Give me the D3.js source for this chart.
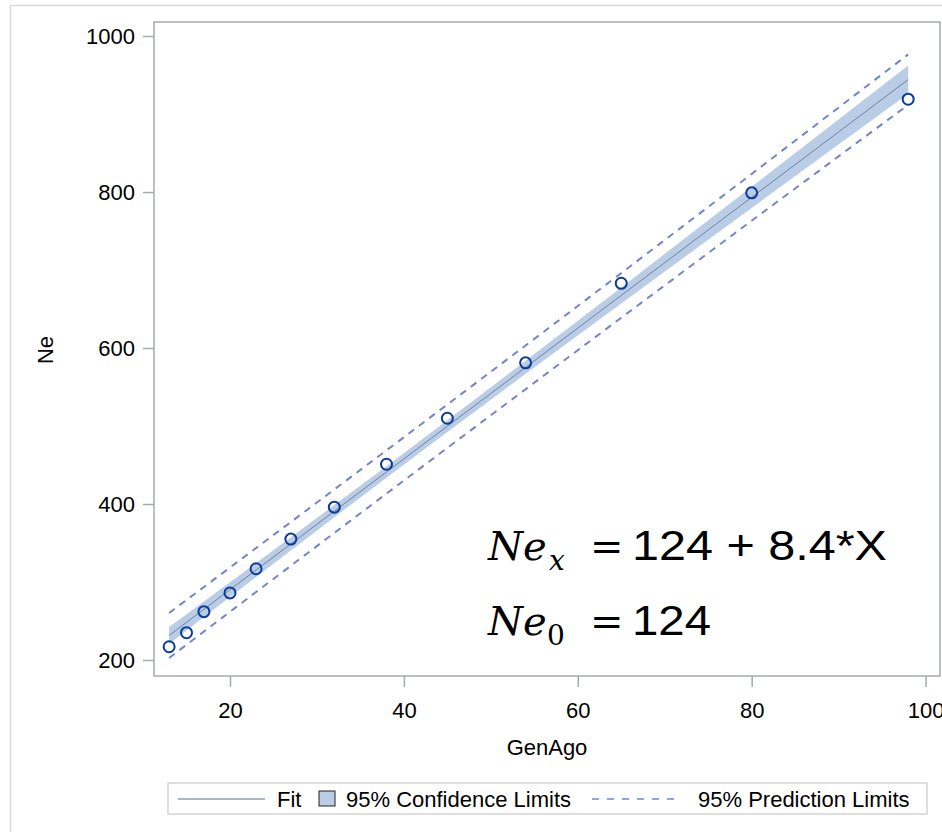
<!DOCTYPE html>
<html>
<head>
<meta charset="utf-8">
<script src="https://cdn.jsdelivr.net/npm/d3@7"></script>
<style>
  html, body { margin: 0; padding: 0; background: #fff; }
  svg { display: block; font-family: "Liberation Sans", Arial, sans-serif; }
</style>
</head>
<body>
<svg id="chart" width="942" height="832"></svg>
<script>
// generations ago vs effective population size
const genAgo = [13, 15, 17, 20, 23, 27, 32, 38, 45, 54, 65, 80, 98];
const ne = [217, 235, 262, 286, 317, 355, 396, 451, 510, 581, 683, 799, 919];
const xTicks = [20, 40, 60, 80, 100];
const yTicks = [200, 400, 600, 800, 1000];
const legendLabels = ["Fit", "95% Confidence Limits", "95% Prediction Limits"];
const tCrit = 2.201; // t(0.975, df = 11)

const width = 942, height = 832;
const plot = { left: 154, top: 22, right: 940, bottom: 676 };

const svg = d3.select("#chart");

// outer graph border
svg.append("rect")
   .attr("x", 10.5).attr("y", 5.5)
   .attr("width", 940).attr("height", 840)
   .attr("fill", "#fff")
   .attr("stroke", "#d9d9d9")
   .attr("stroke-width", 1.5);

const x = d3.scaleLinear().domain([11.26, 101.66]).range([plot.left, plot.right]);
const y = d3.scaleLinear().domain([179.5, 1018]).range([plot.bottom, plot.top]);

// least squares fit with confidence / prediction limits
const n = genAgo.length;
const xMean = d3.mean(genAgo), yMean = d3.mean(ne);
const sxx = d3.sum(genAgo, v => (v - xMean) ** 2);
const sxy = d3.sum(genAgo, (v, i) => (v - xMean) * (ne[i] - yMean));
const slope = sxy / sxx;
const intercept = yMean - slope * xMean;
const sse = d3.sum(genAgo, (v, i) => (ne[i] - (intercept + slope * v)) ** 2);
const s = Math.sqrt(sse / (n - 2));

const fitRows = genAgo.map(v => {
  const f = intercept + slope * v;
  const h = (v - xMean) ** 2 / sxx;
  const ci = tCrit * s * Math.sqrt(1 / n + h);
  const pi = tCrit * s * Math.sqrt(1 + 1 / n + h);
  return { x: v, fit: f, lclm: f - ci, uclm: f + ci, lcl: f - pi, ucl: f + pi };
});

const g = svg.append("g");

g.append("path")
 .datum(fitRows)
 .attr("fill", "#b9cde7")
 .attr("d", d3.area().x(d => x(d.x)).y0(d => y(d.lclm)).y1(d => y(d.uclm)));

g.append("path")
 .datum(fitRows)
 .attr("fill", "none")
 .attr("stroke", "#5f6d8f")
 .attr("stroke-width", 0.8)
 .attr("d", d3.line().x(d => x(d.x)).y(d => y(d.fit)));

["lcl", "ucl"].forEach(k => {
  g.append("path")
   .datum(fitRows)
   .attr("fill", "none")
   .attr("stroke", "#7385cb")
   .attr("stroke-width", 2)
   .attr("stroke-dasharray", "7,6")
   .attr("d", d3.line().x(d => x(d.x)).y(d => y(d[k])));
});

g.selectAll(".pt")
 .data(genAgo)
 .enter()
 .append("circle")
 .attr("class", "pt")
 .attr("cx", d => x(d))
 .attr("cy", (d, i) => y(ne[i]))
 .attr("r", 5.5)
 .attr("fill", "none")
 .attr("stroke", "#0b3a9b")
 .attr("stroke-width", 2);

// frame
svg.append("rect")
   .attr("x", plot.left).attr("y", plot.top)
   .attr("width", plot.right - plot.left)
   .attr("height", plot.bottom - plot.top)
   .attr("fill", "none")
   .attr("stroke", "#a6aaaf")
   .attr("stroke-width", 1.5);

const xAxis = svg.append("g")
  .attr("transform", `translate(0, ${plot.bottom})`)
  .call(d3.axisBottom(x).tickValues(xTicks).tickSize(11).tickPadding(15).tickSizeOuter(0));
const yAxis = svg.append("g")
  .attr("transform", `translate(${plot.left}, 0)`)
  .call(d3.axisLeft(y).tickValues(yTicks).tickFormat(d3.format("d"))
    .tickSize(11).tickPadding(8).tickSizeOuter(0));

[xAxis, yAxis].forEach(a => {
  a.select(".domain").remove();
  a.selectAll(".tick line").attr("stroke", "#a6aaaf").attr("stroke-width", 1.5);
  a.selectAll(".tick text")
   .attr("fill", "#000")
   .attr("font-size", 22)
   .attr("font-family", "Liberation Sans, Arial, sans-serif");
});

svg.append("text")
   .attr("x", 547).attr("y", 755)
   .attr("text-anchor", "middle")
   .attr("font-size", 22)
   .text("GenAgo");

svg.append("text")
   .attr("transform", "translate(53, 350) rotate(-90)")
   .attr("text-anchor", "middle")
   .attr("font-size", 22)
   .text("Ne");

// equation annotation
const eq = svg.append("g");
const eqLines = [
  { base: 560, sub: "x", subX: 549, rest: "124 + 8.4*X", restW: 255 },
  { base: 635, sub: "0", subX: 547, rest: "124", restW: 79 }
];
eqLines.forEach(l => {
  const t = eq.append("text").attr("y", l.base).attr("fill", "#000");
  t.append("tspan").attr("x", 488)
   .attr("font-family", "DejaVu Serif, serif").attr("font-style", "italic")
   .attr("font-size", 40).text("Ne");
  t.append("tspan").attr("x", l.subX).attr("dy", 10)
   .attr("font-family", "DejaVu Serif, serif").attr("font-style", l.sub === "x" ? "italic" : "normal")
   .attr("font-size", 28).text(l.sub);
  eq.append("text").attr("y", l.base).attr("x", 590)
   .attr("font-family", "DejaVu Serif, serif")
   .attr("font-size", 40).text("=");
  eq.append("text").attr("y", l.base).attr("x", 632)
   .attr("font-family", "Liberation Sans, Arial, sans-serif")
   .attr("font-size", 43)
   .attr("textLength", l.restW)
   .attr("lengthAdjust", "spacingAndGlyphs")
   .text(l.rest);
});

// legend
const lg = svg.append("g");
lg.append("rect")
  .attr("x", 168).attr("y", 783)
  .attr("width", 759).attr("height", 31)
  .attr("fill", "#fff")
  .attr("stroke", "#d4d4d4")
  .attr("stroke-width", 1.5);
lg.append("line")
  .attr("x1", 178).attr("x2", 265).attr("y1", 799).attr("y2", 799)
  .attr("stroke", "#5f6d8f").attr("stroke-width", 1);
lg.append("text").attr("x", 277).attr("y", 807).attr("font-size", 22).text(legendLabels[0]);
lg.append("rect")
  .attr("x", 319).attr("y", 791).attr("width", 16).attr("height", 15)
  .attr("fill", "#b9cde7").attr("stroke", "#222").attr("stroke-width", 1);
lg.append("text").attr("x", 346).attr("y", 807).attr("font-size", 22).text(legendLabels[1]);
lg.append("line")
  .attr("x1", 592).attr("x2", 680).attr("y1", 799).attr("y2", 799)
  .attr("stroke", "#7385cb").attr("stroke-width", 1.5)
  .attr("stroke-dasharray", "7,8");
lg.append("text").attr("x", 698).attr("y", 807).attr("font-size", 22).text(legendLabels[2]);
</script>
</body>
</html>
